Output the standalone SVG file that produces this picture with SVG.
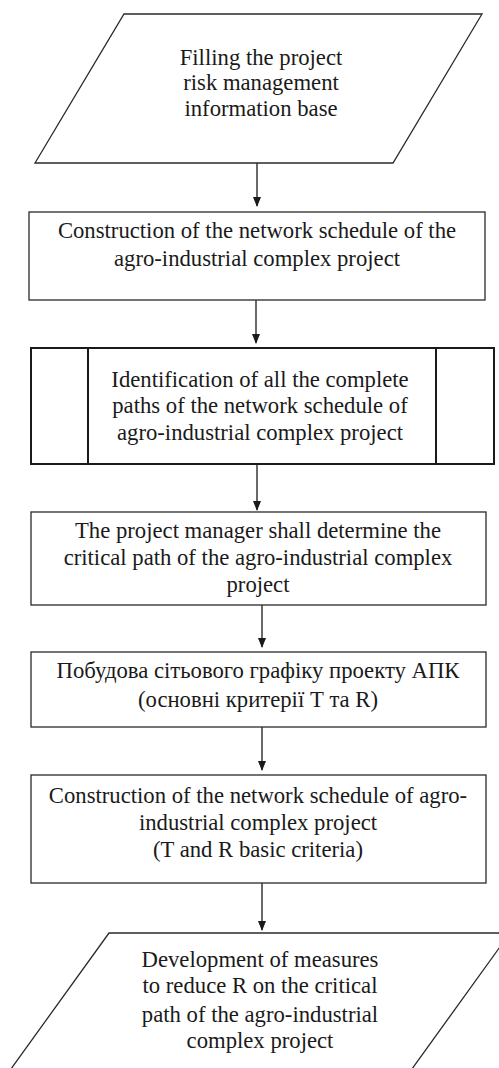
<svg xmlns="http://www.w3.org/2000/svg" width="499" height="1068" viewBox="0 0 499 1068">
<defs>
<style>
.shape{fill:#fff;stroke:#2a2a2a;stroke-width:1.3}
.thick{fill:#fff;stroke:#1a1a1a;stroke-width:2}
.t{font-family:"Liberation Serif","Times New Roman",serif;font-size:22.7px;fill:#1a1a1a;text-anchor:middle}
.c{stroke:#1a1a1a;stroke-width:1.3;fill:none;marker-end:url(#ah)}
</style>
<marker id="ah" markerWidth="10" markerHeight="10" refX="9" refY="4" orient="auto" markerUnits="userSpaceOnUse" viewBox="0 0 10 8">
<path d="M0,0 L10,4 L0,8 Z" fill="#1a1a1a"/>
</marker>
</defs>
<rect width="499" height="1068" fill="#fff"/>
<g id="connectors">
<line class="c" x1="257" y1="163" x2="257" y2="206"/>
<line class="c" x1="256" y1="300" x2="256" y2="343"/>
<line class="c" x1="257" y1="464" x2="257" y2="510"/>
<line class="c" x1="262" y1="605" x2="262" y2="647"/>
<line class="c" x1="262" y1="727" x2="262" y2="770"/>
<line class="c" x1="262" y1="883" x2="262" y2="930"/>
</g>
<g id="n1">
<polygon class="shape" points="124,14 482,14 393,163 35,163"/>
<text class="t" x="261" y="65">Filling the project</text>
<text class="t" x="261" y="90">risk management</text>
<text class="t" x="261" y="116">information base</text>
</g>
<g id="n2">
<rect class="shape" x="29" y="212" width="456" height="88"/>
<text class="t" x="257" y="238">Construction of the network schedule of the</text>
<text class="t" x="257" y="266">agro-industrial complex project</text>
</g>
<g id="n3">
<rect class="thick" x="31" y="348" width="463" height="116"/>
<line class="thick" x1="88" y1="348" x2="88" y2="464"/>
<line class="thick" x1="436" y1="348" x2="436" y2="464"/>
<text class="t" x="260" y="387">Identification of all the complete</text>
<text class="t" x="260" y="413">paths of the network schedule of</text>
<text class="t" x="260" y="440">agro-industrial complex project</text>
</g>
<g id="n4">
<rect class="shape" x="31" y="512" width="455" height="93"/>
<text class="t" x="258" y="538">The project manager shall determine the</text>
<text class="t" x="258" y="565">critical path of the agro-industrial complex</text>
<text class="t" x="258" y="592">project</text>
</g>
<g id="n5">
<rect class="shape" x="31" y="652" width="455" height="75"/>
<text class="t" x="258" y="678">Побудова сітьового графіку проекту АПК</text>
<text class="t" x="258" y="707">(основні критерії Т та R)</text>
</g>
<g id="n6">
<rect class="shape" x="31" y="775" width="455" height="108"/>
<text class="t" x="258" y="803">Construction of the network schedule of agro-</text>
<text class="t" x="258" y="830">industrial complex project</text>
<text class="t" x="258" y="857">(T and R basic criteria)</text>
</g>
<g id="n7">
<polygon class="shape" points="109,933 510,933 404,1080 3,1080"/>
<text class="t" x="260" y="967">Development of measures</text>
<text class="t" x="260" y="993">to reduce R on the critical</text>
<text class="t" x="260" y="1022">path of the agro-industrial</text>
<text class="t" x="260" y="1048">complex project</text>
</g>
</svg>
